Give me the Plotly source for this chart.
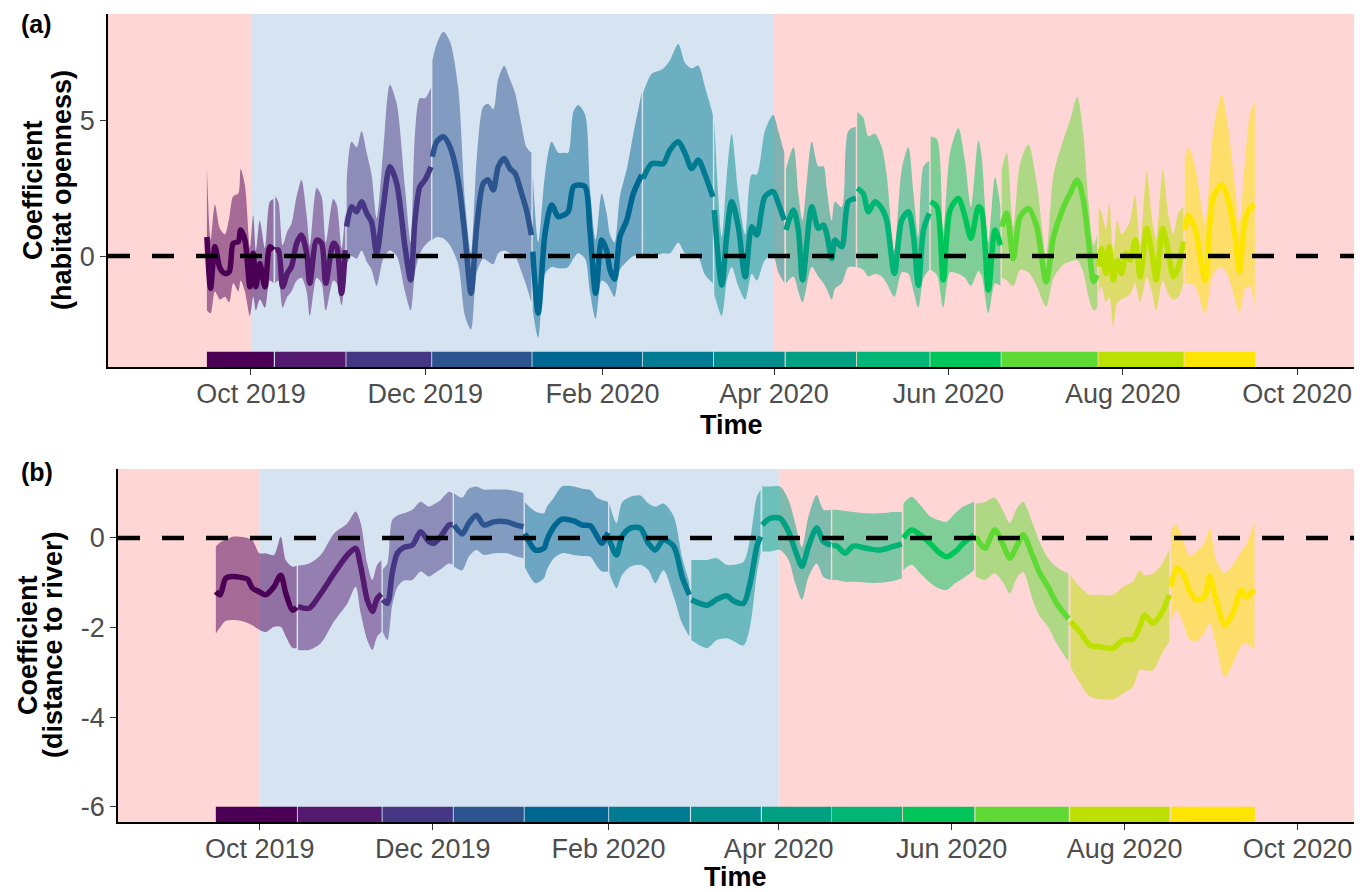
import numpy as np
import pandas as pd
import plotly.graph_objects as go

# ---------------- data ----------------
BASE_DATE = pd.Timestamp("2019-10-01")      # day 0
X_RANGE_DAYS = [-50.0, 385.9]
SEASON_BREAKS = ["2019-10-01", "2020-04-01"]   # wet season (blue) between

SEG_COLORS = ["#4B0055", "#541A6F", "#463784", "#2C5590", "#006792", "#007B91",
              "#008D8C", "#00A082", "#00B575", "#00C65A", "#5FD934", "#BCE100", "#FDE500"]

# panel (a): habitat openness  (days since 2019-10-01)
A_SEG_START = [-15.4, 8.4, 33.4, 63.4, 98.5, 137.1, 162.0, 187.1, 212.0, 237.7, 262.6, 296.5, 326.6]
A_SEG_END = [8.0, 33.1, 63.1, 98.2, 136.8, 161.7, 186.7, 211.7, 237.4, 262.3, 296.2, 326.3, 351.3]
A_DAYS = [
    -15.4, -14.1, -12.6, -10.8, -9.1, -7.6, -6.2, -4.4, -3.6, -2.1, -0.35, 0.8, 1.75, 3.1, 4.9, 6.6, 7.9,
    8.5, 9.6, 11.1, 12.7, 14.2, 16.0, 17.7, 19.5, 20.6, 23.0, 24.7, 26.2, 28.8, 30.0, 31.7, 33.0,
    33.5, 35.2, 37.0, 38.7, 40.5, 42.2, 44.0, 46.3, 48.6, 51.0, 53.9, 55.9, 57.4, 59.1, 60.9, 63.0,
    63.5, 65.0, 67.3, 69.6, 72.5, 74.9, 77.0, 79.0, 81.3, 83.0, 84.8, 86.5, 88.6, 90.6, 92.4, 94.7, 96.4, 98.1,
    98.6, 100.5, 102.9, 105.2, 107.5, 109.3, 111.0, 112.8, 114.5, 116.9, 118.6, 120.6, 122.7, 124.4, 125.6,
    127.2, 129.1, 131.5, 133.8, 136.7,
    137.2, 140.2, 142.5, 144.3, 146.6, 149.5, 151.9, 154.2, 156.5, 158.9, 161.6,
    162.1, 164.7, 166.5, 168.2, 170.5, 172.9, 175.2, 177.0, 179.8, 182.7, 184.5, 186.6,
    187.2, 189.8, 191.5, 193.0, 196.2, 198.5, 200.3, 201.4, 203.2, 204.3, 206.7, 209.0, 211.6,
    212.1, 214.2, 216.0, 218.3, 220.7, 222.4, 225.1, 227.7, 230.0, 231.8, 233.5, 235.3, 237.3,
    237.8, 240.0, 242.2, 244.6, 247.5, 249.8, 251.9, 254.5, 255.6, 258.0, 260.3, 262.2,
    262.7, 264.4, 266.7, 269.1, 272.0, 274.9, 278.2, 280.8, 284.3, 286.6, 289.1, 291.2, 293.0, 294.8, 296.1,
    296.6, 297.6, 299.1, 300.3, 301.7, 303.1, 304.6, 306.2, 307.6, 309.3, 311.1, 313.4, 315.2, 316.7,
    319.0, 321.0, 322.7, 324.5, 326.2,
    326.7, 328.0, 330.3, 333.8, 336.7, 339.6, 341.9, 344.3, 345.8, 347.8, 349.5, 351.2,
]
A_MEAN = [
    0.7, -1.19, 0.34, -0.45, -0.64, -0.58, 0.47, 0.53, 0.96, 0.59, -1.13, 0.1, -1.13, -0.27, -1.13, 0.34, 0.22,
    0.22, 0.22, -1.13, -0.64, -0.39, 0.47, 0.77, 0.1, -1.0, 0.59, 0.47, -1.0, 0.47, 0.34, -1.37, 0.22,
    1.08, 1.81, 1.63, 2.0, 1.57, 1.26, 0.1, 1.81, 3.28, 2.67, 0.34, -0.88, 1.32, 2.55, 2.8, 3.28,
    3.65, 4.2, 4.39, 4.02, 2.8, 0.71, -1.37, 1.08, 2.67, 2.8, 2.43, 3.28, 3.59, 3.22, 3.04, 2.3, 1.69, 0.77,
    0.16, -2.1, 0.83, 1.88, 1.45, 1.5, 1.63, 2.55, 2.61, 2.55, 0.96, -1.37, 0.59, 0.22, -0.5,
    -0.85, 0.71, 1.32, 2.3, 2.98,
    2.86, 3.4, 3.4, 3.4, 3.9, 4.2, 3.77, 3.22, 3.53, 2.98, 2.18,
    1.69, -1.07, 0.8, 2.0, 1.08, -0.76, 1.08, 0.77, 2.18, 2.37, 1.94, 1.32,
    0.96, 1.69, 0.96, -0.88, 1.81, 1.02, 1.14, 0.83, -0.09, 0.59, 0.34, 2.0, 2.12,
    2.49, 2.3, 1.63, 2.0, 1.75, 1.32, -0.64, 1.32, 1.63, 0.71, -1.07, 0.96, 1.57,
    2.0, 1.81, -0.88, 1.69, 2.12, 1.45, 0.65, 1.81, 1.69, -1.25, 0.96, 0.4,
    1.08, 1.57, -0.09, 1.45, 1.75, 1.08, -0.94, 0.71, 1.81, 2.3, 2.8, 2.06, 0.59, -0.94, -0.7,
    -0.39, 0.28, -0.64, 0.34, -0.88, -0.15, -0.64, 0.1, -0.15, 0.59, -0.76, 1.02, 0.1, -0.88,
    1.02, 0.1, -0.76, -0.39, 0.53,
    0.96, 1.5, 1.02, -0.88, 2.18, 2.61, 2.06, 0.71, -0.58, 1.32, 1.75, 1.88,
]
A_LO = [
    -2.0, -2.1, -1.3, -1.6, -1.5, -1.7, -1.0, -1.3, -0.9, -1.3, -2.2, -1.5, -2.0, -1.6, -1.9, -0.9, -1.0,
    -1.0, -0.9, -1.9, -1.5, -1.3, -0.9, -0.8, -1.3, -2.2, -0.8, -1.0, -2.0, -0.9, -1.0, -1.8, -0.5,
    -0.3, 0.0, -0.1, 0.2, -0.2, -0.5, -1.1, -0.1, 0.2, 0.0, -1.3, -2.0, -0.6, 0.1, 0.4, 0.6,
    0.6, 0.7, 0.65, 0.4, -0.3, -2.2, -2.7, -0.6, -0.1, -0.2, -0.3, 0.1, 0.2, 0.1, 0.0, -0.6, -1.1, -1.7,
    -2.0, -3.0, -0.65, -0.4, -0.45, -0.45, -0.4, -0.1, 0.1, -0.1, -1.3, -2.3, -0.9, -1.0, -1.2,
    -1.5, -0.5, -0.2, 0.0, 0.05,
    -0.1, 0.1, 0.05, 0.1, 0.1, 0.5, 0.1, 0.05, -0.05, -0.7, -1.0,
    -1.4, -2.2, -0.9, -0.4, -1.1, -1.6, -0.65, -0.9, -0.15, 0.0, -0.6, -1.0,
    -1.0, -0.75, -1.3, -1.7, -0.4, -0.75, -1.0, -1.2, -1.6, -1.2, -1.0, -0.4, -0.4,
    -0.4, -0.5, -0.75, -0.65, -0.75, -1.0, -1.5, -0.6, -0.65, -1.3, -1.9, -0.8, -0.5,
    -0.5, -0.7, -1.9, -0.6, -0.65, -0.8, -1.1, -0.55, -0.7, -2.1, -1.0, -1.1,
    -0.8, -0.9, -1.1, -0.5, -0.6, -1.1, -1.86, -0.8, -0.3, -0.2, -0.15, -0.6, -1.5, -2.0, -1.9,
    -1.4, -1.1, -1.7, -1.5, -2.6, -1.7, -1.6, -1.5, -1.4, -1.0, -1.7, -0.8, -1.3, -2.0,
    -0.9, -1.4, -1.6, -1.5, -1.0,
    -1.0, -1.0, -1.1, -2.1, -0.65, -0.4, -0.75, -1.6, -2.1, -1.2, -1.1, -1.9,
]
A_HI = [
    3.3, 0.6, 1.9, 1.0, 0.8, 1.4, 2.2, 2.3, 3.2, 2.6, 0.3, 1.5, 0.2, 1.3, 0.3, 2.0, 2.1,
    2.2, 2.0, 0.4, 0.9, 1.2, 2.2, 2.8, 1.5, 0.4, 2.5, 2.2, 0.5, 2.1, 1.9, 0.3, 1.6,
    2.8, 4.2, 4.0, 4.6, 3.8, 3.0, 1.4, 3.9, 6.3, 5.6, 2.5, 0.5, 4.5, 5.8, 5.8, 6.2,
    7.2, 7.8, 8.25, 7.9, 6.2, 2.0, 0.1, 3.6, 5.5, 5.6, 5.4, 6.5, 7.0, 6.5, 6.0, 4.8, 4.0, 3.8,
    3.0, 0.5, 3.0, 4.2, 3.8, 3.8, 3.8, 5.3, 5.55, 5.2, 2.5, 0.6, 2.3, 1.6, 0.8,
    0.5, 2.2, 3.2, 4.5, 6.0,
    6.0, 6.7, 6.8, 6.9, 7.2, 7.8, 7.1, 6.9, 7.0, 6.2, 5.2,
    5.0, 0.7, 3.0, 4.5, 2.3, 0.8, 3.0, 3.0, 4.6, 5.2, 4.6, 3.8,
    3.2, 4.0, 2.3, 1.3, 4.2, 3.3, 3.3, 2.5, 1.3, 2.0, 1.8, 4.6, 4.75,
    5.3, 5.1, 4.4, 4.5, 4.0, 3.0, 0.2, 3.2, 4.0, 2.3, 0.7, 3.3, 3.5,
    4.4, 4.3, 0.9, 3.8, 4.7, 3.5, 1.8, 4.26, 3.7, 0.5, 2.9, 1.8,
    3.2, 3.8, 1.1, 3.4, 4.1, 2.7, 0.0, 3.0, 4.3, 5.0, 5.86, 4.5, 2.0, 0.4, 0.8,
    1.8, 1.6, 1.0, 1.96, 0.1, 1.3, 0.8, 1.0, 1.3, 2.24, 0.4, 3.1, 1.4, 0.6,
    3.16, 1.5, 0.8, 1.6, 1.8,
    3.6, 4.0, 3.3, 1.2, 4.6, 5.95, 4.7, 2.5, 1.2, 3.5, 5.2, 5.7,
]

# panel (b): distance to river
B_SEG_START = [-15.5, 13.4, 43.3, 68.4, 93.4, 123.2, 152.1, 177.1, 201.8, 226.8, 252.4, 285.8, 321.3]
B_SEG_END = [13.1, 43.0, 68.1, 93.1, 122.9, 151.7, 176.7, 201.6, 226.5, 252.0, 285.3, 320.9, 350.9]
B_DAYS = [
    -15.5, -14.0, -12.0, -9.6, -6.7, -4.3, -2.6, -0.2, 2.1, 5.0, 7.4, 9.2, 11.5, 13.0,
    13.5, 17.4, 21.5, 26.2, 30.9, 33.8, 35.6, 37.9, 39.7, 41.4, 42.9,
    43.4, 45.0, 46.7, 48.5, 50.8, 53.8, 56.7, 59.6, 61.4, 63.8, 66.7, 68.0,
    68.5, 71.4, 73.7, 76.4, 79.0, 82.5, 87.2, 90.0, 93.0,
    93.5, 97.2, 100.2, 101.3, 103.7, 106.6, 110.7, 113.7, 116.6, 119.0, 120.7, 122.8,
    123.3, 125.8, 127.8, 130.7, 134.2, 137.1, 139.5, 142.4, 146.0, 148.9, 151.5,
    152.2, 157.7, 161.2, 164.7, 167.0, 170.6, 172.9, 175.3, 176.6,
    177.2, 180.0, 183.5, 186.5, 188.8, 191.2, 193.5, 196.4, 198.8, 201.4,
    201.9, 203.5, 206.4, 209.3, 214.0, 218.7, 223.4, 226.4,
    227.0, 229.9, 232.9, 236.4, 239.3, 242.2, 245.2, 248.1, 251.9,
    252.5, 255.7, 259.2, 262.2, 264.5, 266.9, 269.2, 272.7, 275.1, 278.0, 281.0, 285.2,
    285.9, 289.2, 292.7, 296.2, 301.0, 304.4, 307.9, 310.3, 312.0, 315.0, 318.0, 320.8,
    321.4, 323.3, 325.6, 328.0, 330.3, 333.2, 335.0, 337.3, 340.3, 343.2, 346.1, 347.9, 350.8,
]
B_MEAN = [
    -1.2, -1.27, -0.9, -0.86, -0.88, -0.92, -1.12, -1.2, -1.27, -1.09, -0.83, -1.24, -1.61, -1.55,
    -1.53, -1.57, -1.24, -0.79, -0.38, -0.23, -0.64, -1.38, -1.64, -1.35, -1.25,
    -1.38, -1.46, -0.79, -0.34, -0.21, -0.16, 0.14, -0.08, -0.12, 0.03, 0.29, 0.3,
    0.29, 0.09, 0.33, 0.51, 0.29, 0.36, 0.36, 0.3, 0.25,
    0.1, -0.27, -0.23, -0.04, 0.25, 0.42, 0.38, 0.29, 0.27, 0.03, -0.12, 0.12,
    -0.04, -0.38, 0.03, 0.22, 0.22, -0.12, -0.27, -0.04, -0.19, -0.86, -1.27,
    -1.38, -1.5, -1.37, -1.29, -1.4, -1.46, -1.01, -0.19, 0.03,
    0.29, 0.44, 0.44, 0.14, -0.27, -0.63, -0.19, 0.22, -0.08, -0.16,
    -0.17, -0.18, -0.34, -0.18, -0.23, -0.27, -0.19, -0.13,
    0.0, 0.18, 0.07, -0.12, -0.31, -0.42, -0.31, -0.12, 0.07,
    0.03, -0.23, 0.18, -0.16, -0.45, -0.19, 0.07, -0.42, -0.79, -1.09, -1.46, -1.8,
    -1.87, -2.09, -2.39, -2.43, -2.46, -2.28, -2.26, -1.98, -1.72, -1.9, -1.68, -1.27,
    -1.09, -0.68, -0.79, -1.2, -1.38, -1.31, -0.86, -1.38, -1.94, -1.68, -1.16, -1.31, -1.16,
]
B_LO = [
    -2.13, -2.0, -1.85, -1.83, -1.85, -1.9, -1.95, -2.05, -2.1, -1.98, -1.98, -2.2, -2.45, -2.46,
    -2.5, -2.5, -2.35, -1.86, -1.46, -1.09, -1.68, -2.28, -2.5, -2.2, -2.1,
    -2.1, -2.28, -1.5, -1.1, -0.95, -0.94, -0.75, -0.86, -0.8, -0.7, -0.57, -0.6,
    -0.64, -0.72, -0.42, -0.27, -0.38, -0.34, -0.34, -0.4, -0.45,
    -0.65, -1.01, -0.9, -0.7, -0.45, -0.34, -0.38, -0.4, -0.42, -0.64, -0.75, -0.75,
    -0.79, -1.12, -0.82, -0.64, -0.6, -0.72, -1.01, -0.72, -1.31, -1.9, -2.2,
    -2.28, -2.46, -2.28, -2.24, -2.3, -2.4, -1.98, -0.79, -0.34,
    -0.3, -0.3, -0.27, -0.49, -1.0, -1.38, -0.87, -0.57, -0.87, -0.94,
    -0.94, -0.94, -0.98, -0.98, -1.0, -1.0, -0.96, -0.9,
    -0.72, -0.6, -0.79, -1.0, -1.12, -1.16, -1.01, -0.9, -0.72,
    -0.86, -0.94, -0.79, -1.0, -1.24, -0.9, -0.76, -1.4, -1.75, -1.98, -2.35, -2.76,
    -2.88, -3.24, -3.54, -3.6, -3.6, -3.47, -3.32, -2.95, -2.95, -2.95, -2.6, -2.3,
    -1.9, -1.6, -1.9, -2.28, -2.3, -2.1, -1.9, -2.4, -3.1, -2.8, -2.4, -2.35, -2.5,
]
B_HI = [
    -0.19, -0.1, -0.04, 0.03, 0.03, 0.0, -0.05, -0.34, -0.34, -0.38, 0.03, -0.5, -0.64, -0.62,
    -0.62, -0.57, -0.38, 0.1, 0.33, 0.59, 0.33, -0.57, -0.94, -0.6, -0.5,
    -0.7, -0.57, 0.4, 0.5, 0.55, 0.63, 0.81, 0.7, 0.75, 0.85, 1.03, 1.0,
    1.0, 0.9, 1.1, 1.15, 1.08, 1.08, 1.08, 1.05, 1.0,
    0.8, 0.59, 0.55, 0.7, 0.9, 1.15, 1.15, 1.1, 1.07, 0.89, 0.85, 0.81,
    0.77, 0.33, 0.8, 0.92, 0.95, 0.77, 0.7, 0.77, 0.48, -0.42, -1.0,
    -0.49, -0.49, -0.45, -0.6, -0.6, -0.53, -0.04, 0.92, 1.07,
    1.15, 1.15, 1.15, 0.85, 0.33, -0.2, 0.48, 0.96, 0.63, 0.63,
    0.63, 0.63, 0.6, 0.58, 0.55, 0.55, 0.58, 0.58,
    0.77, 0.92, 0.74, 0.48, 0.4, 0.36, 0.55, 0.7, 0.81,
    0.77, 0.8, 0.9, 0.6, 0.33, 0.65, 0.81, 0.3, -0.1, -0.45, -0.65, -0.8,
    -0.83, -1.09, -1.27, -1.27, -1.27, -1.09, -0.98, -0.72, -0.83, -0.8, -0.6, -0.25,
    0.22, 0.3, -0.05, -0.4, -0.3, -0.1, 0.22, -0.5, -0.79, -0.6, -0.3, -0.15, 0.36,
]

X_TICK_DATES = ["2019-10-01", "2019-12-01", "2020-02-01", "2020-04-01",
                "2020-06-01", "2020-08-01", "2020-10-01"]
X_TICK_TEXT = ["Oct 2019", "Dec 2019", "Feb 2020", "Apr 2020", "Jun 2020", "Aug 2020", "Oct 2020"]
A_YTICKS = [0, 5]
B_YTICKS = [-6, -4, -2, 0]
B_YTICK_TEXT = ["-6", "-4", "-2", "0"]

# ---------------- layout constants ----------------
A_YRANGE = [-4.08, 8.9]
B_YRANGE = [-6.34, 1.54]
A_STRIP = [-4.08, -3.52]
B_STRIP = [-6.34, -6.0]
PINK = "#FFD6D6"
BLUE = "#D6E3F0"
FONT = "Liberation Sans, Arial, sans-serif"


def to_date(d):
    return BASE_DATE + pd.to_timedelta(np.asarray(d, dtype=float), unit="D")


def rgba(hexcol, a):
    h = hexcol.lstrip("#")
    r, g, b = int(h[0:2], 16), int(h[2:4], 16), int(h[4:6], 16)
    return f"rgba({r},{g},{b},{a})"


fig = go.Figure()
shapes = []


def add_panel(days, mean, lo, hi, s_start, s_end, xa, ya, strip):
    days = np.asarray(days, float)
    mean = np.asarray(mean, float)
    lo = np.asarray(lo, float)
    hi = np.asarray(hi, float)
    for k, (s, e) in enumerate(zip(s_start, s_end)):
        m = (days >= s) & (days <= e)
        dd = to_date(days[m])
        col = SEG_COLORS[k]
        common = dict(xaxis=xa, yaxis=ya, hoverinfo="skip", showlegend=False, mode="lines")
        fig.add_trace(go.Scatter(x=dd, y=lo[m], line=dict(width=0, color=col, shape="spline", smoothing=0.8), **common))
        fig.add_trace(go.Scatter(x=dd, y=hi[m], fill="tonexty", fillcolor=rgba(col, 0.5),
                                 line=dict(width=0, color=col, shape="spline", smoothing=0.8), **common))
        fig.add_trace(go.Scatter(x=dd, y=mean[m], line=dict(width=5.5, color=col, shape="spline", smoothing=0.8), **common))
        # colour strip at the bottom
        shapes.append(dict(type="rect", xref=xa, yref=ya, x0=to_date(s), x1=to_date(e),
                           y0=strip[0], y1=strip[1], fillcolor=col, line=dict(width=0), layer="below"))
    # season backgrounds
    xr0, xr1 = to_date(X_RANGE_DAYS[0]), to_date(X_RANGE_DAYS[1])
    b0, b1 = pd.Timestamp(SEASON_BREAKS[0]), pd.Timestamp(SEASON_BREAKS[1])
    bgs = [(xr0, b0, PINK), (b0, b1, BLUE), (b1, xr1, PINK)]
    for x0, x1, c in bgs:
        shapes.insert(0, dict(type="rect", xref=xa, yref=f"{ya} domain", x0=x0, x1=x1, y0=0, y1=1,
                              fillcolor=c, line=dict(width=0), layer="below"))
    # dashed zero line
    shapes.append(dict(type="line", xref=f"{xa} domain", yref=ya, x0=0, x1=1, y0=0, y1=0,
                       line=dict(color="black", width=4.5, dash="22px,22px"), layer="above"))


add_panel(A_DAYS, A_MEAN, A_LO, A_HI, A_SEG_START, A_SEG_END, "x", "y", A_STRIP)
add_panel(B_DAYS, B_MEAN, B_LO, B_HI, B_SEG_START, B_SEG_END, "x2", "y2", B_STRIP)

xr = [to_date(X_RANGE_DAYS[0]), to_date(X_RANGE_DAYS[1])]
axis_common = dict(showline=True, linecolor="black", linewidth=1.6, ticks="outside", ticklen=6,
                   tickwidth=1.4, tickcolor="#333333", showgrid=False, zeroline=False,
                   tickfont=dict(family=FONT, size=27, color="#4D4D4D"))

# the page body adds an 8 px offset, so the figure is 8 px smaller and margins shifted
fig.update_layout(
    width=1359, height=884, autosize=False,
    margin=dict(l=100, r=13, t=6, b=70),
    paper_bgcolor="white", plot_bgcolor="white",
    showlegend=False,
    xaxis=dict(domain=[0, 1], anchor="y", range=xr, type="date", ticklabelstandoff=-4,
               tickvals=pd.to_datetime(X_TICK_DATES), ticktext=X_TICK_TEXT, **axis_common),
    yaxis=dict(domain=[0.5631, 1], anchor="x", range=A_YRANGE, tickvals=A_YTICKS, **axis_common),
    xaxis2=dict(domain=[10 / 1246, 1], anchor="y2", range=xr, type="date", ticklabelstandoff=-4,
                tickvals=pd.to_datetime(X_TICK_DATES), ticktext=X_TICK_TEXT, **axis_common),
    yaxis2=dict(domain=[0, 0.4369], anchor="x2", range=B_YRANGE, tickvals=B_YTICKS,
                ticktext=B_YTICK_TEXT, **axis_common),
    shapes=shapes,
)


def ann(text, x, y, size=27, angle=0, yanchor="middle"):
    return dict(text=text, x=x, y=y, xref="paper", yref="paper", showarrow=False,
                xanchor="center", yanchor=yanchor, textangle=angle,
                font=dict(family=FONT, size=size, color="black"))


fig.update_layout(annotations=[
    ann("<b>(a)</b>", -0.0570, 1.0074, size=25, yanchor="top"),
    ann("<b>(b)</b>", -0.0570, 0.4332, size=25),
    ann("<b>Coefficient</b>", -0.0602, 0.7822, angle=-90),
    ann("<b>(habitat openness)</b>", -0.0369, 0.7822, angle=-90),
    ann("<b>Coefficient</b>", -0.0642, 0.2191, angle=-90),
    ann("<b>(distance to river)</b>", -0.0441, 0.2191, angle=-90),
    ann("<b>Time</b>", 0.5, 0.4913),
    ann("<b>Time</b>", 0.5040, -0.0891, yanchor="bottom"),
])

fig.write_html("out.html")
